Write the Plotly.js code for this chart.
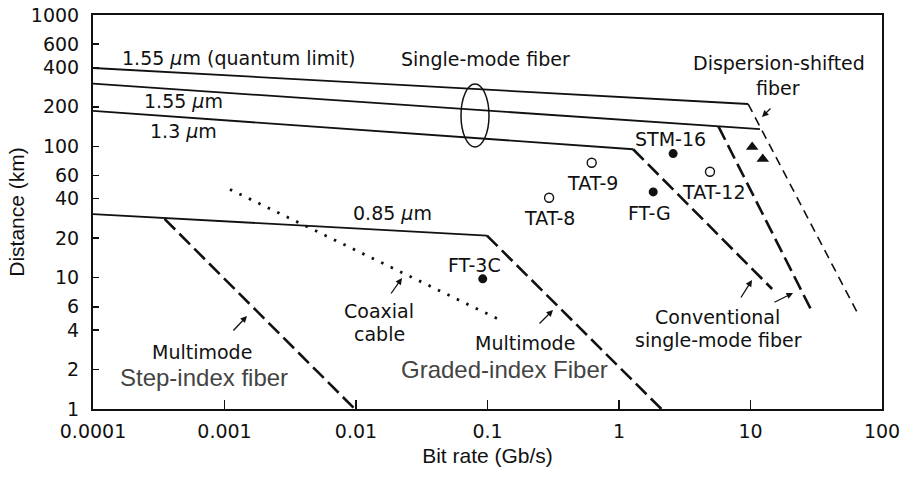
<!DOCTYPE html>
<html>
<head>
<meta charset="utf-8">
<script src="https://cdn.plot.ly/plotly-3.0.1.min.js"></script>
<style>html,body{margin:0;padding:0;background:#fff;}#chart{width:905px;height:478px;}</style>
</head>
<body>
<div id="chart"></div>
<script>
// ---- data (bit rate in Gb/s, distance in km) ----
const xTickVals = [0.0001, 0.001, 0.01, 0.1, 1, 10, 100];
const xTickText = ["0.0001", "0.001", "0.01", "0.1", "1", "10", "100"];
const yTickVals = [1, 2, 4, 6, 10, 20, 40, 60, 100, 200, 400, 600, 1000];
const yTickText = ["1", "2", "4", "6", "10", "20", "40", "60", "100", "200", "400", "600", "1000"];

const xQuantum = [0.0001, 9.6];   const yQuantum = [395, 210];
const xSmf155  = [0.0001, 11.8];  const ySmf155  = [300, 135];
const xSmf13   = [0.0001, 1.28];  const ySmf13   = [186, 95];
const xMm085   = [0.0001, 0.099]; const yMm085   = [30.5, 20.9];

const xDsf     = [9.6, 65];       const yDsf     = [210, 5.4];
const xConv13  = [1.28, 14.6];    const yConv13  = [95, 8.2];
const xConv155 = [5.7, 29.4];     const yConv155 = [142, 5.5];
const xGraded  = [0.099, 2.1];    const yGraded  = [20.9, 1];
const xStep    = [0.00035, 0.0098]; const yStep  = [28, 1];
const xCoax    = [0.0011, 0.131]; const yCoax    = [47, 4.65];

const filledNames = ["FT-3C", "FT-G", "STM-16"];
const filledX = [0.092, 1.82, 2.58];
const filledY = [9.8, 45, 88];
const openNames = ["TAT-8", "TAT-9", "TAT-12"];
const openX = [0.294, 0.62, 4.92];
const openY = [40.6, 75, 64];
const triX = [10.3, 12.4];
const triY = [99, 80];

// ---- layout helpers (pixel -> paper) ----
const W = 905, H = 478;
const M = {l: 93, r: 23, t: 15, b: 69};
const PW = W - M.l - M.r, PH = H - M.t - M.b;
const px = v => (v - M.l) / PW;
const py = v => (H - M.b - v) / PH;

const FONT = "DejaVu Sans";
const GRAYFONT = "Liberation Sans";

function line(x, y, width, dash) {
  return {x: x, y: y, type: "scatter", mode: "lines", showlegend: false, hoverinfo: "skip",
          line: {color: "#111", width: width, dash: dash}};
}

const traces = [
  line(xQuantum, yQuantum, 1.8, "solid"),
  line(xSmf155, ySmf155, 1.8, "solid"),
  line(xSmf13, ySmf13, 1.8, "solid"),
  line(xMm085, yMm085, 1.8, "solid"),
  line(xDsf, yDsf, 1.6, "9px,6px"),
  line(xConv13, yConv13, 2.6, "15px,6px"),
  line(xConv155, yConv155, 2.6, "15px,6px"),
  line(xGraded, yGraded, 2.6, "15px,6px"),
  line(xStep, yStep, 2.6, "15px,6px"),
  line(xCoax, yCoax, 2.8, "2.5px,8px"),
  {x: filledX, y: filledY, text: filledNames, type: "scatter", mode: "markers", showlegend: false,
   marker: {symbol: "circle", size: 9, color: "#111"}},
  {x: openX, y: openY, text: openNames, type: "scatter", mode: "markers", showlegend: false,
   marker: {symbol: "circle-open", size: 9, color: "#111", line: {width: 1.4, color: "#111"}}},
  {x: triX, y: triY, type: "scatter", mode: "markers", showlegend: false,
   marker: {symbol: "triangle-up", size: 11, color: "#111"}}
];

function label(text, x, y, opts) {
  opts = opts || {};
  return {text: text, xref: "paper", yref: "paper", x: px(x), y: py(y),
          xanchor: "center", yanchor: "middle", showarrow: false,
          font: {family: opts.family || FONT, size: opts.size || 19, color: opts.color || "#111"}};
}
function arrow(tx, ty, hx, hy) {
  return {text: "", xref: "paper", yref: "paper", x: px(hx), y: py(hy),
          ax: tx - hx, ay: ty - hy, showarrow: true, arrowhead: 2, arrowsize: 1,
          arrowwidth: 1.3, arrowcolor: "#111", standoff: 0};
}

const annotations = [
  label("1.55 <i>μ</i>m (quantum limit)", 238, 58),
  label("Single-mode fiber", 485, 59),
  label("1.55 <i>μ</i>m", 183, 101),
  label("1.3 <i>μ</i>m", 183, 131),
  label("Dispersion-shifted", 779, 63),
  label("fiber", 778, 88),
  label("STM-16", 670, 139),
  label("TAT-9", 592, 183),
  label("TAT-8", 549, 218),
  label("FT-G", 649, 213),
  label("TAT-12", 714, 192),
  label("FT-3C", 474, 265),
  label("0.85 <i>μ</i>m", 392, 213),
  label("Coaxial", 379, 311),
  label("cable", 379, 334),
  label("Multimode", 202, 352),
  label("Step-index fiber", 204, 377, {family: GRAYFONT, size: 24, color: "#444"}),
  label("Multimode", 525, 343),
  label("Graded-index Fiber", 504, 369, {family: GRAYFONT, size: 24, color: "#444"}),
  label("Conventional", 717, 317),
  label("single-mode fiber", 718, 340),
  arrow(772, 107, 762, 117),
  arrow(390, 295, 402, 278),
  arrow(232, 332, 247, 316),
  arrow(538, 325, 553, 310),
  arrow(740, 299, 752, 280),
  arrow(773, 303, 793, 293)
];

const shapes = [
  {type: "circle", xref: "paper", yref: "paper",
   x0: px(461), x1: px(489), y0: py(147), y1: py(84),
   line: {color: "#111", width: 1.5}}
];

const layout = {
  width: W, height: H,
  margin: M,
  paper_bgcolor: "#fff", plot_bgcolor: "#fff",
  showlegend: false,
  font: {family: FONT, color: "#111"},
  xaxis: {
    type: "log", range: [-4, 2], tickvals: xTickVals, ticktext: xTickText,
    ticks: "inside", ticklen: 9, tickwidth: 1.5, tickcolor: "#111",
    showline: true, linecolor: "#111", linewidth: 2, mirror: true,
    showgrid: false, zeroline: false, ticklabelstandoff: 4,
    tickfont: {family: FONT, size: 19, color: "#111"},
    title: {text: "Bit rate (Gb/s)", font: {family: GRAYFONT, size: 21, color: "#111"}, standoff: 8}
  },
  yaxis: {
    type: "log", range: [0, 3], tickvals: yTickVals, ticktext: yTickText,
    ticks: "inside", ticklen: 6, tickwidth: 1.5, tickcolor: "#111",
    showline: true, linecolor: "#111", linewidth: 2, mirror: true,
    showgrid: false, zeroline: false, ticklabelstandoff: 8,
    tickfont: {family: FONT, size: 19, color: "#111"},
    title: {text: "Distance (km)", font: {family: GRAYFONT, size: 21, color: "#111"}, standoff: 0}
  },
  annotations: annotations,
  shapes: shapes
};

Plotly.newPlot("chart", traces, layout, {displayModeBar: false, staticPlot: true});
</script>
</body>
</html>
